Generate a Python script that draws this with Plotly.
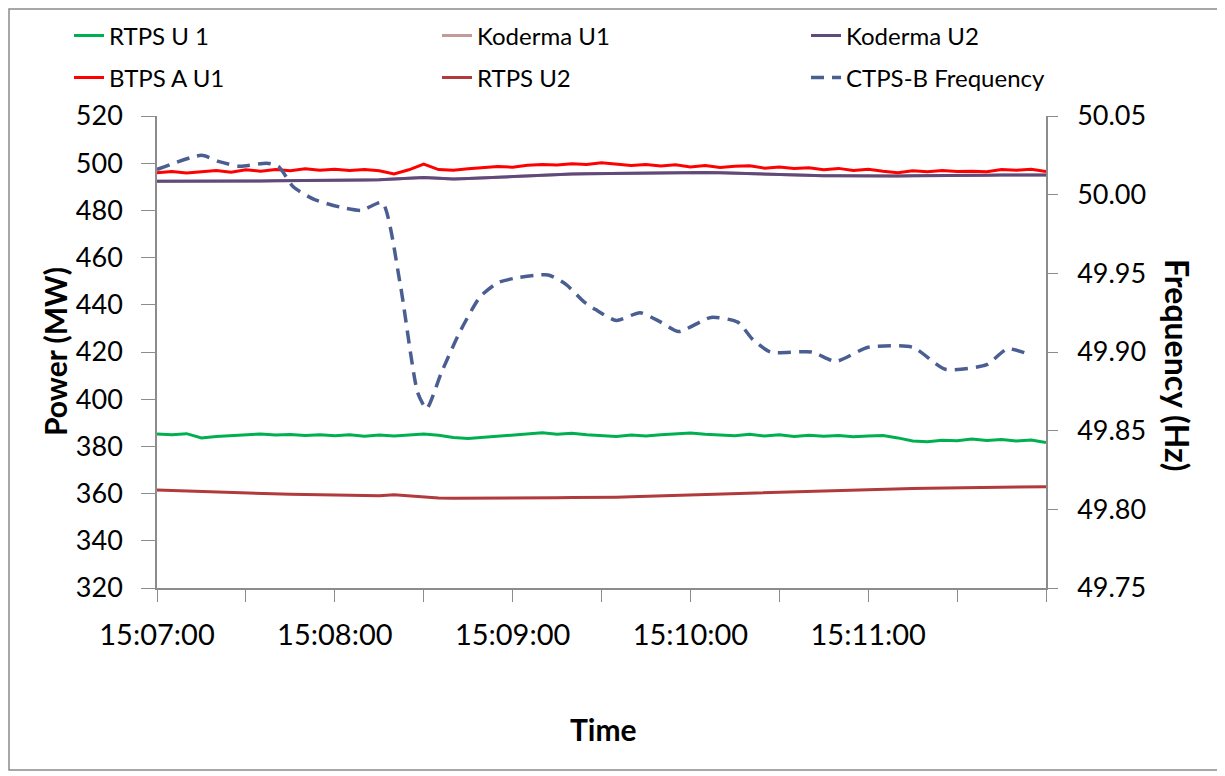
import pandas as pd
import plotly.graph_objects as go

# power readings, one every 5 s from 15:07:00
rtps_u1 = [385.3, 384.9, 385.4, 383.6, 384.2, 384.6, 384.9, 385.3, 384.8, 385.0,
           384.6, 384.9, 384.5, 384.9, 384.3, 384.8, 384.4, 385.0, 385.3, 384.7,
           383.8, 383.3, 383.8, 384.5, 385.0, 385.4, 385.8, 385.1, 385.6, 384.9,
           384.6, 384.2, 384.8, 384.4, 384.9, 385.4, 385.7, 385.2, 385.0, 384.5,
           385.1, 384.4, 384.9, 384.2, 384.7, 384.3, 384.6, 384.1, 384.4, 384.6,
           383.6, 382.3, 382.0, 382.6, 382.4, 383.1, 382.5, 382.9, 382.3, 382.7,
           381.6]
koderma_u2 = [492.3, 492.3, 492.2, 492.3, 492.3, 492.4, 492.5, 492.5, 492.6, 492.6,
              492.6, 492.7, 492.7, 492.8, 492.9, 493.0, 493.4, 493.7, 493.9, 493.6,
              493.3, 493.5, 493.8, 494.2, 494.5, 494.8, 495.1, 495.3, 495.4, 495.5,
              495.6, 495.6, 495.7, 495.8, 495.9, 496.0, 496.1, 496.1, 496.0, 495.8,
              495.6, 495.4, 495.1, 494.9, 494.8, 494.7, 494.7, 494.6, 494.7, 494.7,
              494.6, 494.7, 494.7, 494.8, 494.6, 494.8, 494.9, 495.0, 494.9, 495.0,
              495.0]
# Koderma U1 sits under Koderma U2 in the picture
koderma_u1 = list(koderma_u2)
btps_a_u1 = [496.0, 496.5, 495.8, 496.4, 496.9, 496.2, 497.2, 496.6, 497.3, 496.8,
             497.6, 497.0, 497.4, 496.9, 497.3, 496.8, 495.4, 497.2, 499.6, 497.3,
             497.0, 497.6, 498.0, 498.6, 498.3, 499.1, 499.5, 499.2, 499.8, 499.5,
             500.2, 499.6, 499.0, 499.4, 498.8, 499.3, 498.4, 499.0, 498.2, 498.7,
             498.9, 497.9, 498.4, 497.8, 498.1, 497.2, 497.8, 496.9, 497.4, 496.6,
             496.0, 496.8, 496.4, 496.9, 496.5, 496.6, 496.4, 497.3, 497.0, 497.4,
             496.5]
rtps_u2 = [361.5, 361.3, 361.1, 360.8, 360.6, 360.3, 360.0, 359.9, 359.9, 359.7,
           359.6, 359.5, 359.4, 359.2, 359.0, 359.1, 359.5, 359.0, 358.4, 358.1,
           358.0, 358.0, 357.9, 357.9, 358.0, 358.1, 358.1, 358.2, 358.3, 358.3,
           358.4, 358.5, 358.7, 358.9, 359.1, 359.3, 359.5, 359.7, 359.9, 360.0,
           360.2, 360.4, 360.6, 360.8, 361.0, 361.2, 361.4, 361.6, 361.8, 362.0,
           362.1, 362.2, 362.3, 362.4, 362.5, 362.6, 362.7, 362.8, 362.8, 362.9,
           362.9]

# CTPS-B frequency (seconds after 15:07:00, Hz)
freq_sec = [0, 15, 21, 28, 37, 41, 46, 53, 62, 69, 76, 82, 88, 91, 96, 102, 109,
            115, 121, 132, 138, 144, 148, 155, 163, 170, 176, 187, 196, 201, 207,
            221, 229, 240, 255, 266, 280, 287, 295]
freq_hz = [50.016, 50.025, 50.021, 50.018, 50.020, 50.018, 50.005, 49.997, 49.992,
           49.990, 49.995, 49.944, 49.874, 49.864, 49.887, 49.912, 49.935, 49.944,
           49.947, 49.949, 49.943, 49.932, 49.927, 49.920, 49.925, 49.919, 49.913,
           49.922, 49.919, 49.908, 49.900, 49.900, 49.894, 49.903, 49.903, 49.889,
           49.892, 49.902, 49.898]

start = pd.Timestamp("2013-01-01 15:07:00")
end = start + pd.Timedelta(minutes=5)
power_t = [start + pd.Timedelta(seconds=5 * i) for i in range(len(rtps_u1))]
freq_t = [start + pd.Timedelta(seconds=s) for s in freq_sec]

font = "Lato"

fig = go.Figure()
fig.add_trace(go.Scatter(x=power_t, y=rtps_u1, mode="lines", name="RTPS U 1",
                         line=dict(color="#00B050", width=3), legend="legend"))
fig.add_trace(go.Scatter(x=power_t, y=koderma_u1, mode="lines", name="Koderma U1",
                         line=dict(color="#C49A98", width=3), legend="legend2"))
fig.add_trace(go.Scatter(x=power_t, y=koderma_u2, mode="lines", name="Koderma U2",
                         line=dict(color="#604A7B", width=3), legend="legend3"))
fig.add_trace(go.Scatter(x=power_t, y=btps_a_u1, mode="lines", name="BTPS A U1",
                         line=dict(color="#FF0000", width=3), legend="legend4"))
fig.add_trace(go.Scatter(x=power_t, y=rtps_u2, mode="lines", name="RTPS U2",
                         line=dict(color="#B03A3C", width=3), legend="legend5"))
fig.add_trace(go.Scatter(x=freq_t, y=freq_hz, mode="lines", name="CTPS-B Frequency",
                         yaxis="y2", legend="legend6",
                         line=dict(color="#4A5E92", width=3.5, dash="13px,8px",
                                   shape="spline", smoothing=0.6)))

tick_t = [start + pd.Timedelta(seconds=30 * i) for i in range(11)]
tick_txt = [t.strftime("%H:%M:%S") if i % 2 == 0 and i < 10 else "" for i, t in enumerate(tick_t)]


# page pixel -> paper fraction (plot area spans x 157..1046, y 116..588 on the page)
def px_x(p):
    return (p - 157) / 889


def px_y(p):
    return (588 - p) / 472


leg = dict(orientation="h", xanchor="left", yanchor="middle",
           font=dict(family=font, size=24), bgcolor="rgba(0,0,0,0)")
legend_cols = [69, 437, 806]
legend_rows = [36, 78]

axis_col = "#8C8C8C"
fig.update_layout(
    width=1217, height=768,
    margin=dict(l=149, r=179, t=108, b=188, autoexpand=False),
    paper_bgcolor="white", plot_bgcolor="white",
    font=dict(family=font, size=27, color="black"),
    showlegend=True,
    legend=dict(leg, x=px_x(legend_cols[0]), y=px_y(legend_rows[0])),
    legend2=dict(leg, x=px_x(legend_cols[1]), y=px_y(legend_rows[0])),
    legend3=dict(leg, x=px_x(legend_cols[2]), y=px_y(legend_rows[0])),
    legend4=dict(leg, x=px_x(legend_cols[0]), y=px_y(legend_rows[1])),
    legend5=dict(leg, x=px_x(legend_cols[1]), y=px_y(legend_rows[1])),
    legend6=dict(leg, x=px_x(legend_cols[2]), y=px_y(legend_rows[1])),
    xaxis=dict(type="date", range=[start, end], tickvals=tick_t, ticktext=tick_txt,
               ticks="outside", ticklen=12, tickcolor=axis_col, showline=True,
               linecolor=axis_col, linewidth=1.5, showgrid=False, zeroline=False,
               ticklabelstandoff=8, tickfont=dict(size=29)),
    yaxis=dict(range=[320, 520], dtick=20, ticks="outside", ticklen=14,
               tickcolor=axis_col, showline=True, linecolor=axis_col, linewidth=1.5,
               showgrid=False, zeroline=False, ticklabelstandoff=13),
    yaxis2=dict(range=[49.75, 50.05], dtick=0.05, tickformat=".2f", overlaying="y",
                side="right", ticks="outside", ticklen=10, tickcolor=axis_col,
                showline=True, linecolor=axis_col, linewidth=1.5, showgrid=False,
                zeroline=False, ticklabelstandoff=14),
    annotations=[
        dict(text="<b>Power (MW)</b>", xref="paper", yref="paper", x=px_x(55), y=0.5,
             xanchor="center", yanchor="middle", textangle=-90, showarrow=False,
             font=dict(family=font, size=30)),
        dict(text="<b>Frequency (Hz)</b>", xref="paper", yref="paper", x=px_x(1178),
             y=px_y(365), xanchor="center", yanchor="middle", textangle=90,
             showarrow=False, font=dict(family=font, size=32)),
        dict(text="<b>Time</b>", xref="paper", yref="paper", x=px_x(603), y=px_y(729),
             xanchor="center", yanchor="middle", showarrow=False,
             font=dict(family=font, size=30)),
    ],
    shapes=[dict(type="rect", xref="paper", yref="paper", x0=px_x(9), x1=px_x(1218),
                 y0=px_y(770), y1=px_y(9), line=dict(color="#8A8A8A", width=1.5))],
)

fig.write_html("out.html")
